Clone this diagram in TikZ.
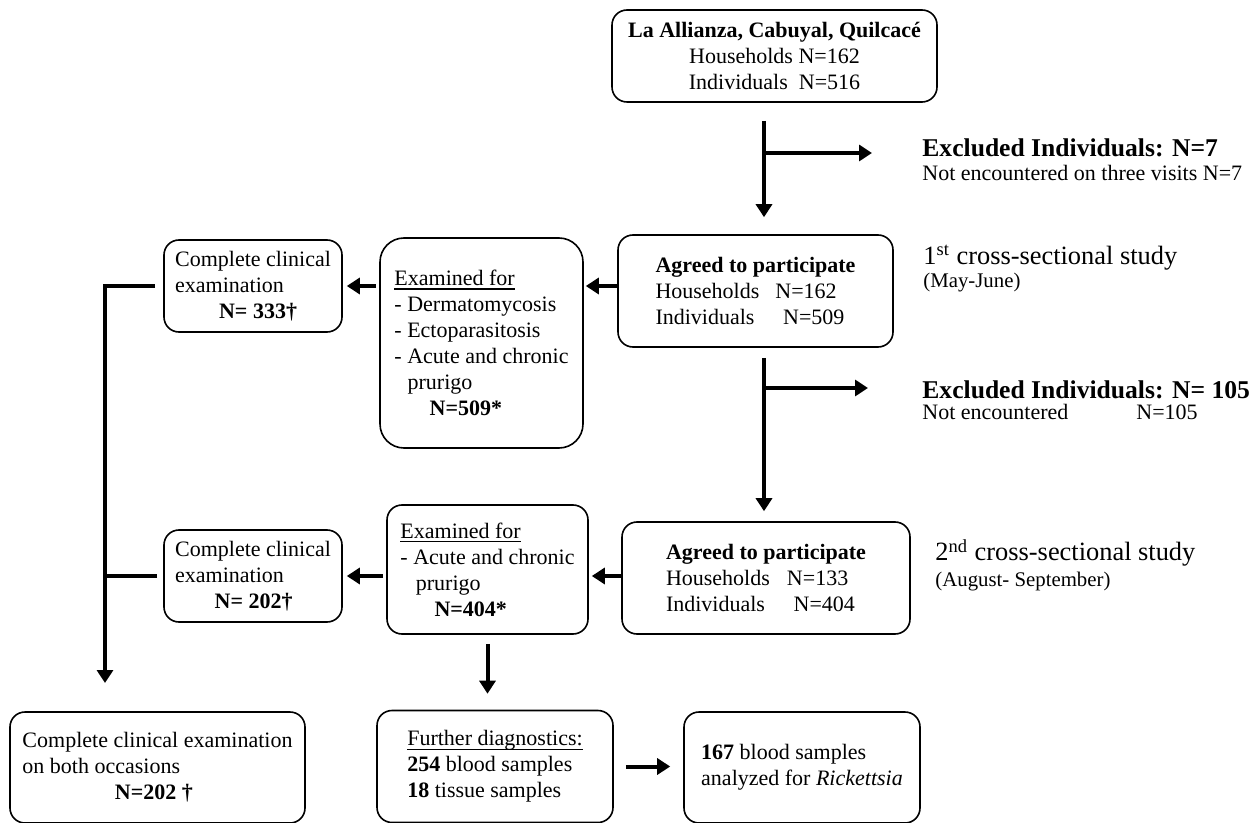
\documentclass[tikz,border=0pt]{standalone}
\usepackage{fontspec}
\setmainfont{Liberation Serif}
\usepackage{tikz}
\usetikzlibrary{arrows.meta}
\newcommand{\undertext}[1]{\setbox0=\hbox{#1}\rlap{\rule[-2pt]{\wd0}{0.6pt}}\box0}

\begin{document}
\begin{tikzpicture}[x=0.5pt, y=-0.5pt,
    every node/.style={font=\fontsize{11}{13}\selectfont},
    box/.style={draw, line width=0.8pt, rounded corners=7.5pt, align=left, inner sep=0pt},
    arrowline/.style={line width=2pt, -{Triangle[length=6.5pt,width=8pt]}},
    plainline/.style={line width=2pt},
    side/.style={anchor=west, inner sep=0pt}]
    \useasboundingbox (0,0) rectangle (1257,823);

    % first visit
    \node[box, align=center, minimum width=162.5pt, minimum height=46pt] (top) at (774.5,56)
        {\textbf{La Allianza, Cabuyal, Quilcacé}\\Households N=162\\Individuals\ \ N=516};
    \node[box, minimum width=137.5pt, minimum height=56pt] (agree1) at (755.5,291)
        {\textbf{Agreed to participate}\\\makebox[5.45em][l]{Households}N=162\\\makebox[5.8em][l]{Individuals}N=509};
    \node[box, rounded corners=12pt, minimum width=101.5pt, minimum height=105pt] (exam1) at (481.5,343)
        {\undertext{Examined for}\\- Dermatomycosis\\- Ectoparasitosis\\- Acute and chronic\\\hspace*{0.6em}prurigo\\\hspace*{1.6em}\textbf{N=509*}};
    \node[box, minimum width=89pt, minimum height=46pt] (comp1) at (253,286)
        {Complete clinical\\examination\\\hspace*{2em}\textbf{N= 333†}};

    % second visit
    \node[box, minimum width=144pt, minimum height=56pt] (agree2) at (766,578)
        {\textbf{Agreed to participate}\\\makebox[5.5em][l]{Households}N=133\\\makebox[5.8em][l]{Individuals}N=404};
    \node[box, minimum width=100.5pt, minimum height=64.5pt] (exam2) at (487.5,569.5)
        {\undertext{Examined for}\\- Acute and chronic\\\hspace*{0.7em}prurigo\\\hspace*{1.55em}\textbf{N=404*}};
    \node[box, minimum width=89pt, minimum height=46pt] (comp2) at (253,576)
        {Complete clinical\\examination\\\hspace*{1.8em}\textbf{N= 202†}};

    % results
    \node[box, minimum width=147.5pt, minimum height=55.5pt] (both) at (157.5,767.5)
        {Complete clinical examination\\on both occasions\\\hspace*{4.2em}\textbf{N=202 †}};
    \node[box, minimum width=118pt, minimum height=56pt] (further) at (495,766.5)
        {\undertext{Further diagnostics:}\\\textbf{254} blood samples\\\textbf{18} tissue samples};
    \node[box, minimum width=118pt, minimum height=55.5pt] (rick) at (802,767.5)
        {\textbf{167} blood samples\\analyzed for \textit{Rickettsia}};

    % side notes
    \node[side] (excl1) at (922,148) {\fontsize{12.8}{15}\selectfont\textbf{Excluded Individuals: N=7}};
    \node[side] (excl1n) at (922,173) {Not encountered on three visits N=7};
    \node[side] (cross1) at (923,258) {\fontsize{13.2}{15}\selectfont 1\textsuperscript{st} cross-sectional study};
    \node[side] (cross1m) at (923,283) {\fontsize{10.4}{12}\selectfont (May-June)};
    \node[side] (excl2) at (922,390) {\fontsize{12.8}{15}\selectfont\textbf{Excluded Individuals: N= 105}};
    \node[side] (excl2n) at (922,412) {\makebox[107pt][l]{Not encountered}N=105};
    \node[side] (cross2) at (935,553) {\fontsize{13.2}{15}\selectfont 2\textsuperscript{nd} cross-sectional study};
    \node[side] (cross2m) at (935,582) {\fontsize{10.4}{12}\selectfont (August- September)};

    \coordinate (trunk) at (764,0);
    \coordinate (br1) at (764,153);
    \coordinate (br1end) at (872,153);
    \coordinate (br2) at (764,388);
    \coordinate (br2end) at (868,388);
    \coordinate (lefttip) at (105,683);

    % main column
    \draw[arrowline, shorten <=9pt, shorten >=8.5pt] (top.south -| trunk) -- (agree1.north -| trunk);
    \draw[arrowline] (br1) -- (br1end);
    \draw[arrowline, shorten <=5pt, shorten >=5pt] (agree1.south -| trunk) -- (agree2.north -| trunk);
    \draw[arrowline] (br2) -- (br2end);

    % to the left
    \draw[arrowline, shorten >=1pt] (agree1.west |- comp1.east) -- (exam1.east |- comp1.east);
    \draw[arrowline, shorten <=1.5pt, shorten >=2pt] (exam1.west |- comp1.east) -- (comp1.east);
    \draw[arrowline, shorten >=1.5pt] (agree2.west |- comp2.east) -- (exam2.east |- comp2.east);
    \draw[arrowline, shorten <=1.5pt, shorten >=2pt] (exam2.west |- comp2.east) -- (comp2.east);

    % both occasions
    \draw[arrowline, shorten <=4pt] (comp1.west) -| (lefttip);
    \draw[plainline, shorten <=3pt] (comp2.west) -- (comp2.west -| lefttip);

    % diagnostics
    \draw[arrowline, shorten <=4.5pt, shorten >=8pt] (exam2.south) -- (exam2.south |- further.north);
    \draw[arrowline, shorten <=6pt, shorten >=6.5pt] (further.east) -- (further.east -| rick.west);
\end{tikzpicture}
\end{document}
